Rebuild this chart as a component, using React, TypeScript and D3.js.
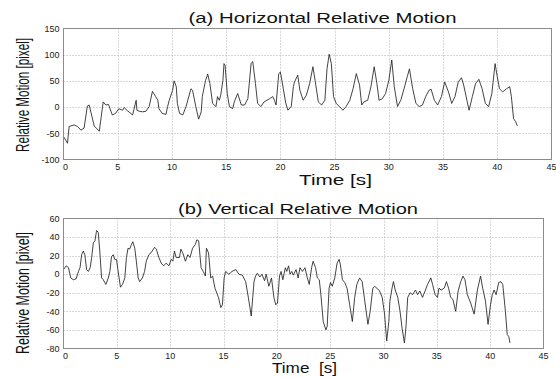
import * as d3 from "d3";
import { useEffect, useRef } from "react";

// time axis ticks shared by both panels
const xTicks = [0, 5, 10, 15, 20, 25, 30, 35, 40, 45];
const hTicks = [-100, -50, 0, 50, 100, 150];
const vTicks = [-80, -60, -40, -20, 0, 20, 40, 60];

// (a) horizontal relative motion, [time s, pixel]
const horizontal: [number, number][] = [
  [0, -56], [0.37, -69], [0.52, -37], [0.98, -34], [1.3, -37], [1.6, -44], [1.9, -40],
  [2.2, 2], [2.37, 4], [2.83, -36], [3.3, -46], [3.66, 10], [3.9, 4], [4.15, 5],
  [4.5, -15], [4.8, -12], [5.1, -3], [5.45, -6], [5.6, -1], [5.9, -7], [6.2, -12],
  [6.37, -15], [6.5, -4], [6.7, 13], [6.77, -6], [7.0, -8], [7.3, -9], [7.6, -8],
  [7.9, 1], [8.2, 30], [8.5, 20], [8.7, 13], [8.8, -3], [9.1, -12], [9.45, -14],
  [9.6, 1], [9.75, 13], [10.06, 32], [10.2, 50], [10.4, 39], [10.5, 7], [10.7, -12],
  [11.0, -15], [11.3, 1], [11.75, 35], [11.9, 32], [12.2, 1], [12.46, -23], [12.7, -9],
  [12.8, 20], [13.1, 51], [13.3, 63], [13.5, 45], [13.75, 7], [14.06, 1], [14.2, 20],
  [14.37, 13], [14.5, 23], [14.7, 51], [14.8, 83], [14.9, 80], [15.1, 26], [15.3, 1],
  [15.6, -3], [15.75, 10], [16.06, 26], [16.4, 4], [16.7, 4], [17.0, 16], [17.3, 83],
  [17.45, 87], [17.7, 45], [17.9, 7], [18.2, 1], [18.5, 10], [19.0, 16], [19.3, 20],
  [19.45, 13], [19.6, 4], [19.85, 64], [20.0, 67], [20.27, 35], [20.5, 7], [20.7, -6],
  [21.0, 1], [21.2, 39], [21.3, 48], [21.6, 61], [21.8, 32], [22.1, 13], [22.4, 23],
  [22.7, 45], [23.0, 77], [23.2, 51], [23.5, 10], [23.8, 4], [24.1, 13], [24.3, 73],
  [24.5, 101], [24.7, 83], [24.9, 20], [25.15, 7], [25.45, 1], [25.76, -6], [26.06, 1],
  [26.4, 13], [26.7, 35], [27.0, 64], [27.3, 42], [27.5, 4], [27.7, 10], [28.05, 13],
  [28.35, 39], [28.65, 77], [28.9, 45], [29.1, 13], [29.4, 16], [29.7, 26], [30.0, 51],
  [30.27, 90], [30.5, 39], [30.8, 1], [31.1, 13], [31.4, 35], [31.7, 58], [31.9, 73],
  [32.2, 35], [32.5, 7], [32.8, 1], [33.1, 4], [33.4, 20], [33.7, 32], [33.9, 34],
  [34.2, 13], [34.5, 4], [34.85, 20], [35.15, 48], [35.5, 29], [35.8, 7], [36.1, 20],
  [36.4, 48], [36.7, 56], [36.9, 42], [37.2, 13], [37.4, -6], [37.7, 20], [38.0, 45],
  [38.3, 53], [38.6, 35], [38.9, 7], [39.2, 1], [39.5, 26], [39.8, 83], [40.0, 58],
  [40.2, 35], [40.5, 29], [40.85, 35], [41.15, 39], [41.3, 20], [41.5, -22], [41.7, -28],
  [41.85, -36],
];

// (b) vertical relative motion, [time s, pixel]
const vertical: [number, number][] = [
  [0, 5], [0.25, 9], [0.47, 7], [0.68, -4], [0.93, -6], [1.18, -5], [1.4, 3], [1.55, 7],
  [1.7, 21], [1.86, 25], [2.0, 21], [2.17, 5], [2.33, 3], [2.5, 7], [2.64, 18], [2.8, 34],
  [2.95, 36], [3.1, 47], [3.26, 45], [3.4, 25], [3.57, -4], [3.73, -6], [3.97, -11],
  [4.2, -4], [4.35, 3], [4.5, 19], [4.66, 21], [4.8, 16], [4.97, 16], [5.1, 5], [5.34, -14],
  [5.53, -11], [5.75, -4], [5.9, 18], [6.05, 28], [6.2, 27], [6.37, 32], [6.5, 35],
  [6.68, 28], [6.83, 14], [7.0, -4], [7.14, -8], [7.4, -4], [7.6, 3], [7.76, 14], [8.0, 21],
  [8.2, 23], [8.54, 29], [8.7, 27], [8.94, 18], [9.16, 12], [9.38, 9], [9.63, 12],
  [9.88, 9], [10.1, 16], [10.25, 14], [10.4, 25], [10.56, 18], [10.87, 18], [11.0, 27],
  [11.18, 23], [11.43, 14], [11.65, 21], [11.86, 18], [12.1, 28], [12.36, 32], [12.5, 37],
  [12.67, 36], [12.9, 7], [13.1, 3], [13.3, -2], [13.4, 28], [13.6, 23], [13.8, -4],
  [13.98, -2], [14.2, -15], [14.53, -25], [14.75, -36], [14.9, -33], [15.06, -4],
  [15.2, 3], [15.5, 0], [15.8, 3], [16.15, 5], [16.45, 0], [16.77, -1], [17.08, -8],
  [17.33, -25], [17.6, -45], [17.86, -8], [18.0, -2], [18.17, 1], [18.4, -3], [18.6, 0],
  [18.85, -7], [19.0, 0], [19.25, -13], [19.5, -4], [19.72, -25], [19.9, -33],
  [20.06, -31], [20.25, -2], [20.4, 3], [20.56, -6], [20.8, 7], [20.93, 3], [21.1, 9],
  [21.24, 0], [21.4, 3], [21.55, -1], [21.8, 5], [22.0, -4], [22.17, 7], [22.4, 3],
  [22.64, 7], [22.86, -4], [23.04, -11], [23.26, 7], [23.4, 14], [23.63, 7], [23.8, -4],
  [23.98, -6], [24.13, -22], [24.35, -51], [24.6, -60], [24.72, -56], [24.9, -15],
  [25.03, -9], [25.2, -13], [25.43, -4], [25.65, 12], [25.84, 16], [25.96, 10],
  [26.15, -6], [26.37, -9], [26.58, -15], [26.83, -33], [27.08, -51], [27.3, -25],
  [27.5, -11], [27.76, -4], [28.0, -8], [28.2, -25], [28.54, -54], [28.75, -40],
  [29.0, -15], [29.16, -13], [29.38, -15], [29.63, -18], [29.88, -25], [30.1, -43],
  [30.3, -72], [30.5, -51], [30.6, -29], [30.8, -15], [30.93, -8], [31.1, -17],
  [31.34, -25], [31.55, -40], [31.74, -58], [31.96, -74], [32.1, -58], [32.27, -25],
  [32.5, -20], [32.73, -22], [33.0, -17], [33.2, -22], [33.4, -18], [33.66, -25],
  [33.9, -18], [34.13, -11], [34.44, -4], [34.6, -11], [34.84, -22], [35.06, -25],
  [35.2, -15], [35.4, -17], [35.7, -15], [35.9, -8], [36.1, -15], [36.3, -25], [36.5, -27],
  [36.77, -40], [37.0, -18], [37.24, -8], [37.45, -2], [37.64, -6], [37.86, -22],
  [38.17, -31], [38.5, -43], [38.8, -17], [39.1, -2], [39.3, -15], [39.56, -29],
  [39.8, -54], [40.03, -33], [40.2, -22], [40.37, -17], [40.56, -22], [40.8, -9],
  [41.0, -8], [41.18, -11], [41.43, -40], [41.6, -65], [41.74, -67], [41.86, -74],
];

const FONT = "'Liberation Sans', Arial, Helvetica, sans-serif";

interface Panel {
  data: [number, number][];
  yDomain: [number, number];
  yTicks: number[];
  left: number;
  right: number;
  top: number;
  bottom: number;
  title: string;
  titleX: number;
  titleY: number;
  titleLen: number;
  xLabel: string;
  xLabelX: number;
  xLabelY: number;
  xLabelLen: number;
  yLabelY: number;
  yLabelLen: number;
}

const panels: Panel[] = [
  {
    data: horizontal,
    yDomain: [-100, 150],
    yTicks: hTicks,
    left: 63.5,
    right: 551.5,
    top: 28.5,
    bottom: 159.5,
    title: "(a) Horizontal Relative Motion",
    titleX: 322.5,
    titleY: 23,
    titleLen: 268,
    xLabel: "Time [s]",
    xLabelX: 335.5,
    xLabelY: 185,
    xLabelLen: 73,
    yLabelY: 95,
    yLabelLen: 114,
  },
  {
    data: vertical,
    yDomain: [-80, 60],
    yTicks: vTicks,
    left: 63.5,
    right: 543.5,
    top: 218.5,
    bottom: 348.5,
    title: "(b) Vertical Relative Motion",
    titleX: 298,
    titleY: 214,
    titleLen: 240,
    xLabel: "Time  [s]",
    xLabelX: 304.5,
    xLabelY: 373,
    xLabelLen: 65,
    yLabelY: 293,
    yLabelLen: 122,
  },
];

export default function App() {
  const svgRef = useRef<SVGSVGElement>(null);

  useEffect(() => {
    if (!svgRef.current) return;
    const svg = d3.select(svgRef.current);
    svg.selectAll("*").remove();

    svg.append("rect").attr("width", 556).attr("height", 378).attr("fill", "#fff");

    panels.forEach((p) => {
      const x = d3.scaleLinear([0, 45], [p.left, p.right]);
      const y = d3.scaleLinear(p.yDomain, [p.bottom, p.top]);
      const g = svg.append("g");

      // dotted grid
      g.append("g")
        .selectAll("line")
        .data(xTicks.slice(1, -1))
        .join("line")
        .attr("x1", (d) => Math.round(x(d)) + 0.5)
        .attr("x2", (d) => Math.round(x(d)) + 0.5)
        .attr("y1", p.top)
        .attr("y2", p.bottom)
        .attr("stroke", "#b0b0b0")
        .attr("stroke-dasharray", "1,2");
      g.append("g")
        .selectAll("line")
        .data(p.yTicks.slice(1, -1))
        .join("line")
        .attr("x1", p.left)
        .attr("x2", p.right)
        .attr("y1", (d) => Math.round(y(d)) + 0.5)
        .attr("y2", (d) => Math.round(y(d)) + 0.5)
        .attr("stroke", "#b0b0b0")
        .attr("stroke-dasharray", "1,2");

      // trace
      const line = d3
        .line<[number, number]>()
        .x((d) => x(d[0]))
        .y((d) => y(d[1]));
      g.append("path")
        .datum(p.data)
        .attr("d", line)
        .attr("fill", "none")
        .attr("stroke", "#222")
        .attr("stroke-width", 0.85)
        .attr("stroke-linejoin", "round");

      // axes box
      g.append("rect")
        .attr("x", p.left)
        .attr("y", p.top)
        .attr("width", p.right - p.left)
        .attr("height", p.bottom - p.top)
        .attr("fill", "none")
        .attr("stroke", "#8c8c8c");

      // tick labels
      g.append("g")
        .attr("font-family", FONT)
        .attr("font-size", 9)
        .attr("fill", "#222")
        .attr("text-anchor", "middle")
        .selectAll("text")
        .data(xTicks)
        .join("text")
        .attr("x", (d) => x(d) + (d === 0 ? 2 : 0))
        .attr("y", p.bottom + 10)
        .text((d) => d);
      g.append("g")
        .attr("font-family", FONT)
        .attr("font-size", 9)
        .attr("fill", "#222")
        .attr("text-anchor", "end")
        .selectAll("text")
        .data(p.yTicks)
        .join("text")
        .attr("x", p.left - 4)
        .attr("y", (d) => y(d) + 3.2)
        .text((d) => d);

      // title and axis labels
      g.append("text")
        .attr("x", p.titleX)
        .attr("y", p.titleY)
        .attr("text-anchor", "middle")
        .attr("font-family", FONT)
        .attr("font-size", 14)
        .attr("textLength", p.titleLen)
        .attr("lengthAdjust", "spacingAndGlyphs")
        .attr("fill", "#111")
        .text(p.title);
      g.append("text")
        .attr("x", p.xLabelX)
        .attr("y", p.xLabelY)
        .attr("text-anchor", "middle")
        .attr("font-family", FONT)
        .attr("font-size", 15.5)
        .attr("textLength", p.xLabelLen)
        .attr("lengthAdjust", "spacingAndGlyphs")
        .style("white-space", "pre")
        .attr("fill", "#111")
        .text(p.xLabel);

      // condensed y label: measure, then squeeze horizontally to fit
      const yl = g
        .append("text")
        .attr("text-anchor", "middle")
        .attr("font-family", FONT)
        .attr("font-size", 18)
        .attr("fill", "#111")
        .text("Relative Motion [pixel]");
      const natural = (yl.node() as SVGTextElement).getComputedTextLength() || 180;
      const sx = p.yLabelLen / natural;
      yl.attr("transform", `translate(29,${p.yLabelY}) rotate(-90) scale(${sx},1)`);
    });
  }, []);

  return (
    <svg
      ref={svgRef}
      width={556}
      height={378}
      style={{ position: "absolute", left: 0, top: 0 }}
    />
  );
}
